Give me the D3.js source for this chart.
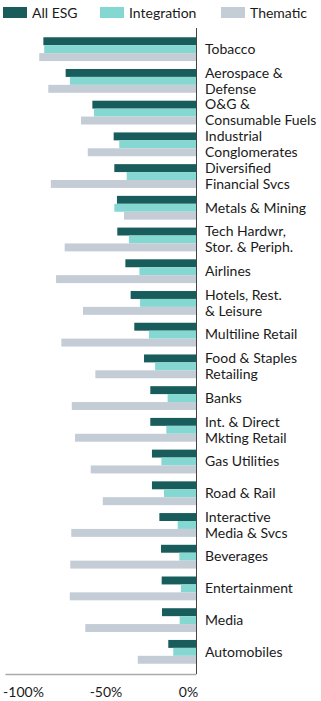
<!DOCTYPE html>
<html><head><meta charset="utf-8">
<script src="https://cdn.jsdelivr.net/npm/d3@7"></script>
<style>
html,body{margin:0;padding:0;background:#fff;}
text{font-family:Lato,sans-serif;fill:#1a1a1a;}
</style></head>
<body><svg id="c" width="321" height="701"></svg>
<script>
const categories = [
  ["Tobacco"],
  ["Aerospace &","Defense"],
  ["O&G &","Consumable Fuels"],
  ["Industrial","Conglomerates"],
  ["Diversified","Financial Svcs"],
  ["Metals & Mining"],
  ["Tech Hardwr,","Stor. & Periph."],
  ["Airlines"],
  ["Hotels, Rest.","& Leisure"],
  ["Multiline Retail"],
  ["Food & Staples","Retailing"],
  ["Banks"],
  ["Int. & Direct","Mkting Retail"],
  ["Gas Utilities"],
  ["Road & Rail"],
  ["Interactive","Media & Svcs"],
  ["Beverages"],
  ["Entertainment"],
  ["Media"],
  ["Automobiles"]
];
const allESG      = [-92.5,-79,-62.8,-49.9,-49.5,-47.9,-47.7,-42.8,-39.6,-37.4,-31.5,-27.7,-27.7,-26.7,-26.7,-22.2,-21.2,-20.8,-20.6,-16.8];
const integration = [-92,-76.4,-61.8,-46.5,-42,-49.5,-40.6,-34.3,-33.9,-28.5,-24.8,-17.2,-18,-21,-19.4,-11.1,-10.1,-9.1,-9.9,-13.8];
const thematic    = [-95,-89.5,-69.7,-65.6,-88,-43.6,-79.6,-84.8,-68.5,-81.6,-61,-75.3,-73.3,-63.8,-56.5,-75.6,-76.2,-76.5,-67.1,-35.3];
const seriesNames = ["All ESG","Integration","Thematic"];
const colors = ["#185c5c","#85d8d1","#c4ccd6"];
const tickValues = [-100,-50,0];
const tickLabels = ["-100%","-50%","0%"];

const svg = d3.select("#c");
const x0 = 196, pxPer = 1.65;
const x = d3.scaleLinear().domain([-(x0-5)/pxPer, 0]).range([5, x0]);
const idx = d3.range(categories.length);
const y = d3.scaleBand().domain(idx).range([33.3, 667.7]).paddingInner(0.25).paddingOuter(0.125);
const ys = d3.scaleBand().domain(d3.range(3)).range([0, y.bandwidth()]);
const FS = 14;

// legend
const lg = svg.append("g");
const legX = [3, 100, 221];
seriesNames.forEach((n,i)=>{
  lg.append("rect").attr("x",legX[i]).attr("y",7).attr("width",24).attr("height",11).attr("fill",colors[i]);
  lg.append("text").attr("x",legX[i]+29).attr("y",17.5).attr("font-size",FS).text(n);
});

const series = [allESG, integration, thematic];
series.forEach((vals,s)=>{
  svg.append("g").selectAll("rect").data(vals).join("rect")
    .attr("x", d=>x(d)).attr("width", d=>x(0)-x(d))
    .attr("y", (d,i)=>y(i)+ys(s)).attr("height", ys.bandwidth())
    .attr("fill", colors[s]);
});

// zero line
svg.append("line").attr("x1",x(0)+0.5).attr("x2",x(0)+0.5).attr("y1",28).attr("y2",674)
  .attr("stroke","#444").attr("stroke-width",1);

// bottom axis
const ax = svg.append("g").attr("transform","translate(0,674)");
ax.call(d3.axisBottom(x).tickValues(tickValues).tickSize(0).tickFormat((d,i)=>tickLabels[i]));
ax.select(".domain").attr("stroke","#aaa").attr("stroke-width",1.5);
ax.selectAll(".tick text").attr("font-size",FS).attr("font-family","Lato, sans-serif")
  .attr("fill","#1a1a1a").attr("dy","1.4em").attr("dx",-8);

// category labels
const lab = svg.append("g");
categories.forEach((lines,i)=>{
  const cy = y(i)+y.bandwidth()/2;
  const t = lab.append("text").attr("x",205).attr("font-size",FS);
  const n = lines.length;
  lines.forEach((l,j)=>{
    t.append("tspan").attr("x",205).attr("y", cy + (j-(n-1)/2)*16 + 4.8).text(l);
  });
});
</script></body></html>
